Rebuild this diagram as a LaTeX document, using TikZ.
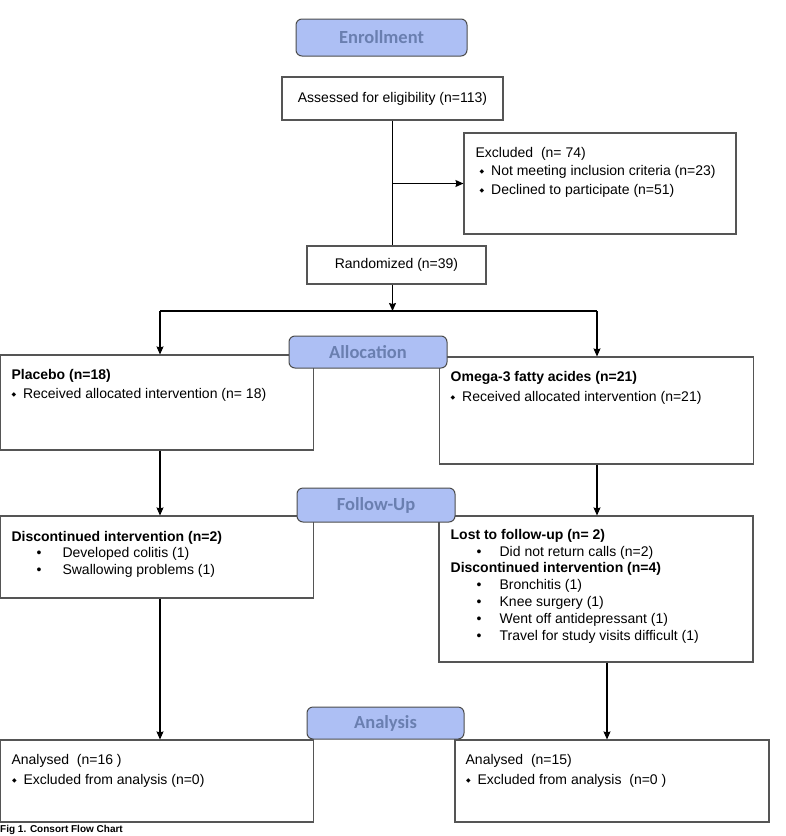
\documentclass[tikz,border=0pt]{standalone}
\usepackage{fontspec}
\setmainfont{Liberation Sans}
\newfontfamily\phasefont{Carlito}
\newfontfamily\symfont{DejaVu Sans}
\usetikzlibrary{positioning,calc,arrows.meta}
\definecolor{phasefill}{HTML}{ADBFF4}
\definecolor{phasetext}{HTML}{6A7FB0}
\definecolor{boxline}{HTML}{555555}
\newcommand{\dbul}[1]{\hspace*{#1}\makebox[11.5pt][l]{\raisebox{2pt}{\symfont\fontsize{6}{6}\selectfont ◆}}}
\newcommand{\rbul}[2]{\hspace*{#1}\makebox[#2][l]{•}}

\begin{document}
\begin{tikzpicture}[x=1pt, y=-1pt,
    box/.style={rectangle, draw=boxline, line width=1.1pt, inner sep=0pt, font=\fontsize{14}{16}\selectfont},
    phase/.style={rectangle, rounded corners=6pt, draw=black!70, fill=phasefill, line width=1pt, text=phasetext, font=\phasefont\bfseries\fontsize{18.5}{20}\selectfont, inner sep=0pt},
    txt/.style={align=left, inner sep=0pt, anchor=north west},
    arrow/.style={-{Stealth[length=8pt, width=7pt, inset=1pt]}, line width=1.1pt},
    link/.style={line width=1.1pt}
]
    \useasboundingbox (0,0) rectangle (786,836);

    % boxes
    \node[box, minimum width=221pt, minimum height=43pt] (assess) at (392.5,98.5) {Assessed for eligibility (n=113)};
    \node[box, minimum width=272pt, minimum height=101pt] (excl) at (600,183.5) {};
    \node[box, minimum width=179pt, minimum height=38pt] (random) at (396.5,265) {Randomized (n=39)};
    \node[box, minimum width=313pt, minimum height=95pt] (placebo) at (157.4,402.5) {};
    \node[box, minimum width=313.5pt, minimum height=107pt] (omega) at (596.3,410.5) {};
    \node[box, minimum width=313pt, minimum height=82pt] (discL) at (157.4,557) {};
    \node[box, minimum width=314pt, minimum height=146pt] (lost) at (596,589) {};
    \node[box, minimum width=313pt, minimum height=82pt] (anaL) at (157.4,781) {};
    \node[box, minimum width=314pt, minimum height=82pt] (anaR) at (612,781) {};

    % box texts
    \node[txt, font=\fontsize{14}{18.5}\selectfont, below right=14.5pt and 12pt of excl.north west] (exclTxt)
        {Excluded\ \ (n= 74)\\ \dbul{4pt}Not meeting inclusion criteria (n=23)\\ \dbul{4pt}Declined to participate (n=51)};
    \node[txt, font=\fontsize{14}{19}\selectfont, below right=14.5pt and 11pt of placebo.north west] (placeboTxt)
        {\textbf{Placebo (n=18)}\\ \dbul{0pt}Received allocated intervention (n= 18)};
    \node[txt, font=\fontsize{14}{20}\selectfont, below right=14.5pt and 11.5pt of omega.north west] (omegaTxt)
        {\textbf{Omega-3 fatty acides (n=21)}\\ \dbul{0pt}Received allocated intervention (n=21)};
    \node[txt, font=\fontsize{14}{16.5}\selectfont, below right=15.5pt and 11pt of discL.north west] (discLTxt)
        {\textbf{Discontinued intervention (n=2)}\\ \rbul{25pt}{26pt}Developed colitis (1)\\ \rbul{25pt}{26pt}Swallowing problems (1)};
    \node[txt, font=\fontsize{14}{16.8}\selectfont, below right=13.5pt and 12pt of lost.north west] (lostTxt)
        {\textbf{Lost to follow-up (n= 2)}\\ \rbul{26pt}{23pt}Did not return calls (n=2)\\
         \textbf{Discontinued intervention (n=4)}\\ \rbul{26pt}{23pt}Bronchitis (1)\\ \rbul{26pt}{23pt}Knee surgery (1)\\
         \rbul{26pt}{23pt}Went off antidepressant (1)\\ \rbul{26pt}{23pt}Travel for study visits difficult (1)};
    \node[txt, font=\fontsize{14}{20}\selectfont, below right=14.5pt and 11pt of anaL.north west] (anaLTxt)
        {Analysed\ \ (n=16 )\\ \dbul{0.5pt}Excluded from analysis (n=0)};
    \node[txt, font=\fontsize{14}{20}\selectfont, below right=14.5pt and 11pt of anaR.north west] (anaRTxt)
        {Analysed\ \ (n=15)\\ \dbul{0.5pt}Excluded from analysis\ \ (n=0 )};

    % connectors
    \coordinate (split) at (assess.south |- excl.west);
    \coordinate (branch) at (392.5,311);
    \coordinate (lfork) at (160,311);
    \coordinate (rfork) at (597,311);
    \coordinate (lostout) at ($(lost.south)+(11,0)$);
    \draw[link] (assess.south) -- (assess.south |- random.north);
    \draw[arrow] (split) -- (excl.west);
    \draw[arrow] (assess.south |- random.south) -- (branch);
    \draw[link] (lfork) -- (rfork);
    \draw[arrow] (lfork) -- (lfork |- placebo.north);
    \draw[arrow] (rfork) -- (rfork |- omega.north);
    \draw[arrow] (lfork |- placebo.south) -- (lfork |- discL.north);
    \draw[arrow] (rfork |- omega.south) -- (rfork |- lost.north);
    \draw[arrow] (lfork |- discL.south) -- (lfork |- anaL.north);
    \draw[arrow] (lostout) -- (lostout |- anaR.north);

    % phase labels
    \node[phase, minimum width=171pt, minimum height=37pt] (enroll) at (381.5,37.5) {Enrollment};
    \node[phase, minimum width=158pt, minimum height=32pt] (alloc) at (368,352) {Allocation};
    \node[phase, minimum width=158pt, minimum height=34pt] (follow) at (376,505) {Follow-Up};
    \node[phase, minimum width=157pt, minimum height=32pt] (analysis) at (385.5,723) {Analysis};

    % caption
    \node[txt, font=\bfseries\fontsize{10}{12}\selectfont] (caption) at (0,825.5) {Fig 1. Consort Flow Chart};
\end{tikzpicture}
\end{document}
